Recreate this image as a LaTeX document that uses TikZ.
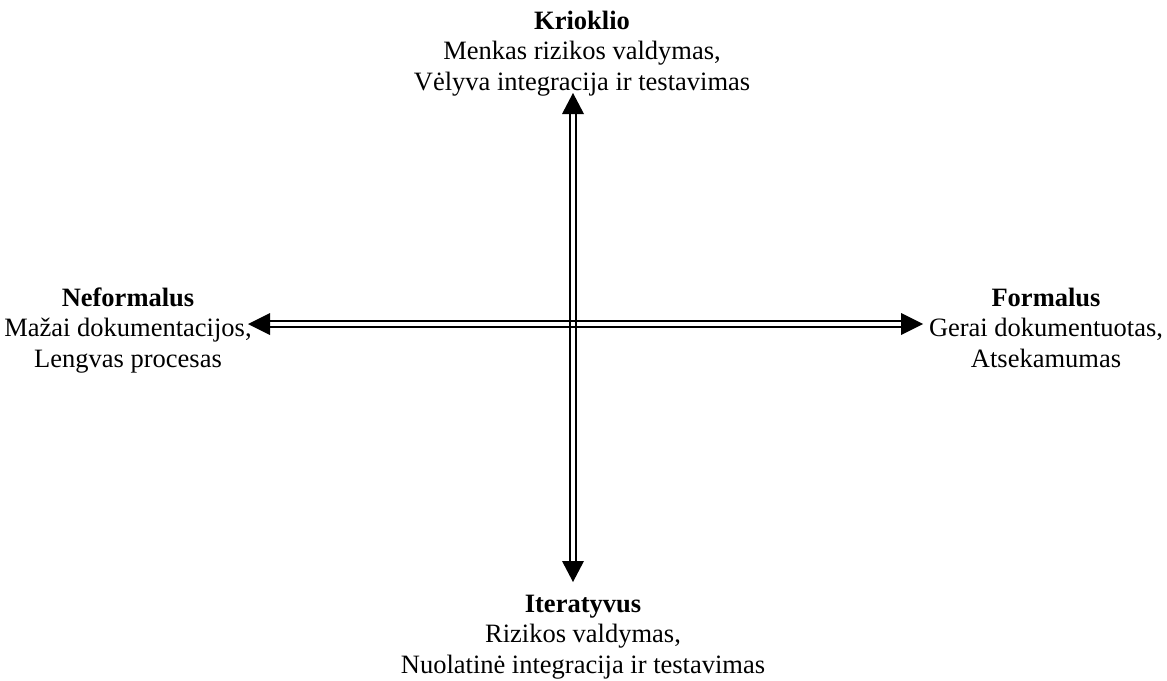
\documentclass[tikz,border=0pt]{standalone}
\usepackage{fontspec}
\setmainfont{Liberation Serif}
\usetikzlibrary{calc}
\begin{document}
\begin{tikzpicture}[x=1pt,y=-1pt,
  rail/.style={line width=2.4pt},
  head/.style={fill=black},
  label/.style={align=center,inner sep=0pt,anchor=base,font=\fontsize{26.5}{30.5}\selectfont}]
\useasboundingbox (0,0) rectangle (1167,680);
% arrow tips
\coordinate (n) at (573,93);
\coordinate (s) at (573,582);
\coordinate (w) at (248,324);
\coordinate (e) at (923,324);
% horizontal double shaft
\draw[rail] ($(w)+(20,-3)$) -- ($(e)+(-20,-3)$);
\draw[rail] ($(w)+(20,3)$) -- ($(e)+(-20,3)$);
% vertical double shaft
\draw[rail] ($(n)+(-3,20)$) -- ($(s)+(-3,-20)$);
\draw[rail] ($(n)+(3,20)$) -- ($(s)+(3,-20)$);
% arrow heads
\fill[head] (n) -- ++(-11,21) -- ++(22,0) -- cycle;
\fill[head] (s) -- ++(-11,-21) -- ++(22,0) -- cycle;
\fill[head] (w) -- ++(22,-11) -- ++(0,22) -- cycle;
\fill[head] (e) -- ++(-22,-11) -- ++(0,22) -- cycle;
% pole labels (anchored at the baseline of the last line)
\node[label] (krioklio) at (582,90) {\textbf{Krioklio}\\Menkas rizikos valdymas,\\Vėlyva integracija ir testavimas};
\node[label] (iteratyvus) at (583,673) {\textbf{Iteratyvus}\\Rizikos valdymas,\\Nuolatinė integracija ir testavimas};
\node[label] (neformalus) at (128,367) {\textbf{Neformalus}\\Mažai dokumentacijos,\\Lengvas procesas};
\node[label] (formalus) at (1046,367) {\textbf{Formalus}\\Gerai dokumentuotas,\\Atsekamumas};
\end{tikzpicture}
\end{document}
